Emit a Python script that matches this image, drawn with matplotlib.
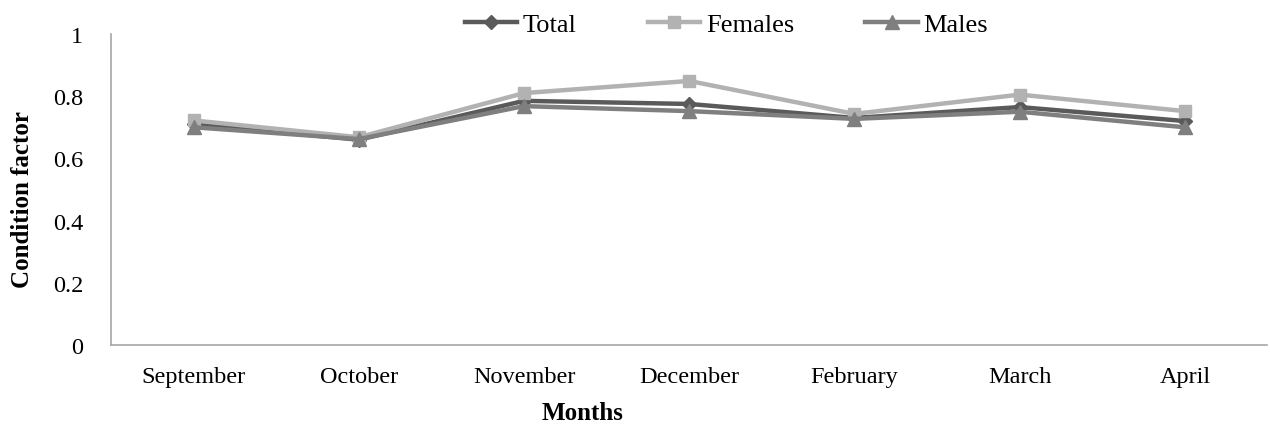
import numpy as np
import matplotlib.pyplot as plt

# Monthly condition factor by sex
months = ["September", "October", "November", "December", "February", "March", "April"]
total = [0.71, 0.66, 0.785, 0.775, 0.73, 0.765, 0.72]
females = [0.722, 0.668, 0.81, 0.849, 0.743, 0.805, 0.752]
males = [0.70, 0.662, 0.768, 0.752, 0.727, 0.75, 0.70]

plt.rcParams['font.family'] = ['Liberation Serif', 'DejaVu Serif']

fig = plt.figure(figsize=(12.7, 4.27), dpi=100)
ax = fig.add_axes([0.0874, 0.190, 0.9106, 0.728])

x = np.arange(len(months))
ax.plot(x, total, color='#5a5a5a', lw=3.2, marker='D', ms=7, label='Total')
ax.plot(x, females, color='#b2b2b2', lw=3.2, marker='s', ms=9, label='Females')
ax.plot(x, males, color='#7f7f7f', lw=3.2, marker='^', ms=10, label='Males')

ax.set_xlim(-0.5, len(months) - 0.5)
ax.set_ylim(0, 1)
ax.set_yticks([0, 0.2, 0.4, 0.6, 0.8, 1.0])
ax.set_yticklabels(['0', '0.2', '0.4', '0.6', '0.8', '1'])
ax.set_xticks(x)
ax.set_xticklabels(months)
ax.tick_params(axis='both', length=0, labelsize=17.5)
ax.tick_params(axis='y', pad=20)
ax.tick_params(axis='x', pad=15)

for side in ['top', 'right']:
    ax.spines[side].set_visible(False)
for side in ['left', 'bottom']:
    ax.spines[side].set_color('#a6a6a6')
    ax.spines[side].set_linewidth(1.2)

ax.set_ylabel('Condition factor', fontsize=18, fontweight='bold')
ax.set_xlabel('Months', fontsize=18, fontweight='bold')
ax.xaxis.set_label_coords(0.408, -0.18)
ax.yaxis.set_label_coords(-0.067, 0.47)

ax.legend(loc='upper center', bbox_to_anchor=(0.532, 1.145), ncol=3, frameon=False,
          fontsize=19, handlelength=2.0, handletextpad=0.2, columnspacing=2.7)

fig.savefig('out.png', dpi=100)
